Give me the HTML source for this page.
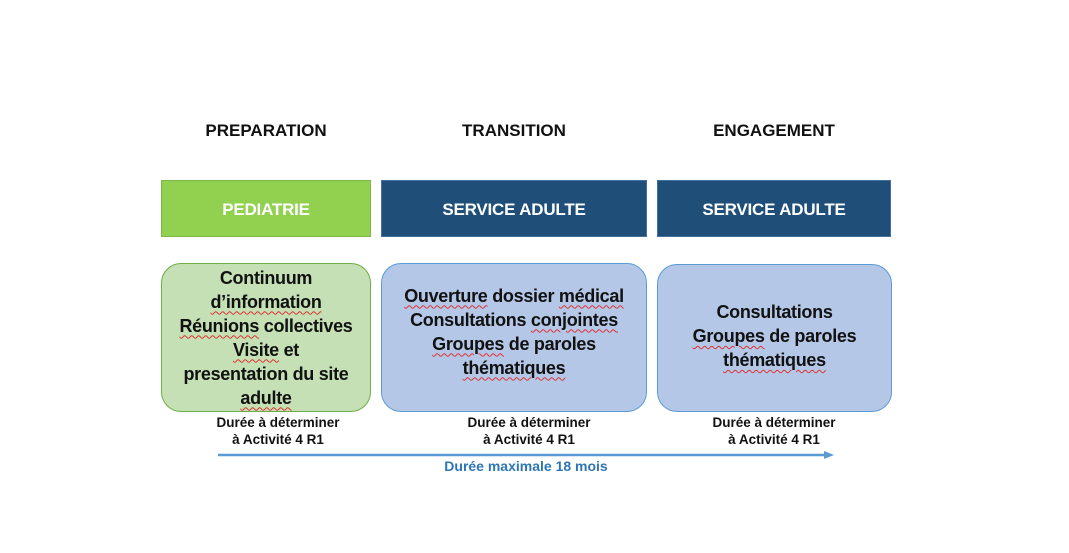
<!DOCTYPE html>
<html><head><meta charset="utf-8"><style>
body{margin:0;width:1069px;height:553px;background:#fff;position:relative;overflow:hidden;font-family:"Liberation Sans",sans-serif;font-weight:bold;}
.a{position:absolute;text-align:center;}
.h{font-size:17px;color:#111;top:121px;letter-spacing:0}
.bar{top:180px;height:57px;line-height:57px;color:#fff;font-size:17px;letter-spacing:-0.2px;box-sizing:border-box}
.box{top:263px;height:149px;border-radius:20px;box-sizing:border-box;display:flex;flex-direction:column;justify-content:center;font-size:18px;line-height:24px;color:#111;letter-spacing:-0.3px}
.u{text-decoration:underline wavy #d33;text-decoration-thickness:1px;text-underline-offset:3px}
.d{font-size:13.5px;line-height:17px;color:#111;top:414px;letter-spacing:0}
</style></head><body>
<div class="a h" style="left:161px;width:210px">PREPARATION</div>
<div class="a h" style="left:381px;width:266px">TRANSITION</div>
<div class="a h" style="left:657px;width:234px">ENGAGEMENT</div>
<div class="a bar" style="left:161px;width:210px;background:#92d050;border:1px solid #7fb648">PEDIATRIE</div>
<div class="a bar" style="left:381px;width:266px;background:#1f4e79;border:1px solid #41719c">SERVICE ADULTE</div>
<div class="a bar" style="left:657px;width:234px;background:#1f4e79;border:1px solid #41719c">SERVICE ADULTE</div>
<div class="a box" style="left:161px;width:210px;background:#c5e0b4;border:1px solid #70ad47"><div>Continuum</div><div><span class="u">d’information</span></div><div><span class="u">Réunions</span> collectives</div><div><span class="u">Visite</span> et</div><div>presentation du site</div><div><span class="u">adulte</span></div></div>
<div class="a box" style="left:381px;width:266px;background:#b4c7e7;border:1px solid #5b9bd5;padding-bottom:12px"><div><span class="u">Ouverture</span> dossier <span class="u">médical</span></div><div>Consultations <span class="u">conjointes</span></div><div><span class="u">Groupes</span> de paroles</div><div><span class="u">thématiques</span></div></div>
<div class="a box" style="left:657px;width:235px;top:264px;height:148px;background:#b4c7e7;border:1px solid #5b9bd5;padding-bottom:4px"><div>Consultations</div><div><span class="u">Groupes</span> de paroles</div><div><span class="u">thématiques</span></div></div>
<div class="a d" style="left:178px;width:200px">Durée à déterminer<br>à Activité 4 R1</div>
<div class="a d" style="left:429px;width:200px">Durée à déterminer<br>à Activité 4 R1</div>
<div class="a d" style="left:674px;width:200px">Durée à déterminer<br>à Activité 4 R1</div>
<svg style="position:absolute;left:0;top:0" width="1069" height="553"><line x1="218" y1="455" x2="826" y2="455" stroke="#5b9bd5" stroke-width="2.5"/><polygon points="824,451 834,455 824,459" fill="#5b9bd5"/></svg>
<div class="a" style="left:416px;width:220px;top:458px;font-size:14px;color:#2e75b6">Durée maximale 18 mois</div>
</body></html>
